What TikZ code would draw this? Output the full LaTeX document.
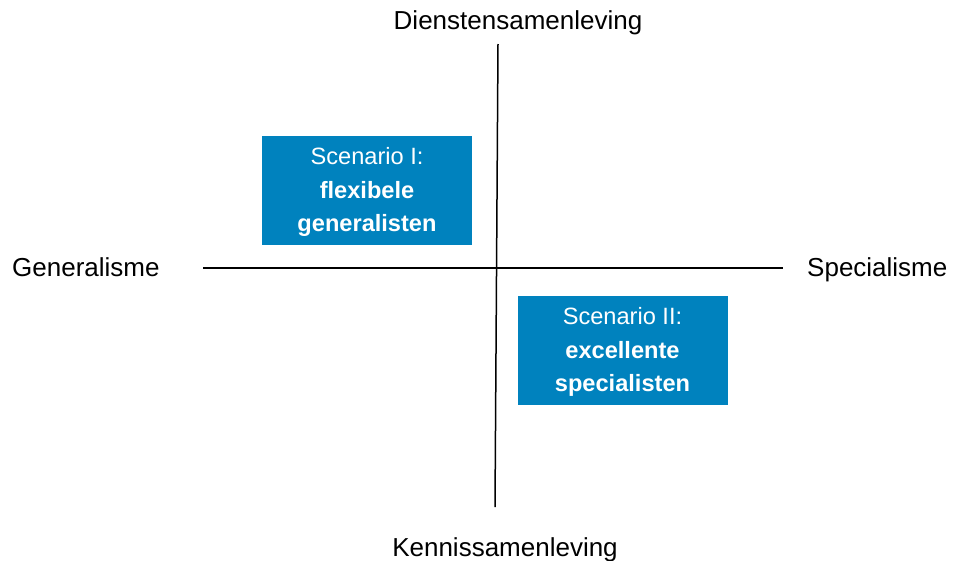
\documentclass[tikz,border=0pt]{standalone}
\usepackage{fontspec}
\setmainfont{Liberation Sans}
\definecolor{scenblue}{RGB}{0,130,190}
\begin{document}
\begin{tikzpicture}[x=1pt,y=-1pt,
  axislabel/.style={anchor=base,inner sep=0pt,font=\fontsize{26}{30}\selectfont,text=black},
  axisline/.style={line width=1.5pt,black},
  scenbox/.style={fill=scenblue,minimum width=210pt,minimum height=109pt,inner sep=0pt},
  scentext/.style={anchor=base,inner sep=0pt,text=white,font=\fontsize{23.6}{28}\selectfont}]
\useasboundingbox (0,0) rectangle (953,560);
\coordinate (top) at (498,44);
\coordinate (bot) at (495,507);
\coordinate (left) at (203,268);
\coordinate (right) at (783,268);
\draw[axisline] (top) -- (bot);
\draw[axisline] (left) -- (right);
\node[axislabel] (dienst) at (518,29) {Dienstensamenleving};
\node[axislabel] (kennis) at (505,556) {Kennissamenleving};
\node[axislabel,anchor=base west] (gen) at (12,276) {Generalisme};
\node[axislabel,anchor=base west] (spec) at (807,276) {Specialisme};
\node[scenbox] (s1) at (367,190.5) {};
\node[scentext] (s1a) at (367,164.7) {Scenario I:};
\node[scentext] (s1b) at (367,198) {\textbf{flexibele}};
\node[scentext] (s1c) at (367,231) {\textbf{generalisten}};
\node[scenbox] (s2) at (622.5,350.5) {};
\node[scentext] (s2a) at (622.5,324.7) {Scenario II:};
\node[scentext] (s2b) at (622.5,358) {\textbf{excellente}};
\node[scentext] (s2c) at (622.5,391) {\textbf{specialisten}};
\end{tikzpicture}
\end{document}
